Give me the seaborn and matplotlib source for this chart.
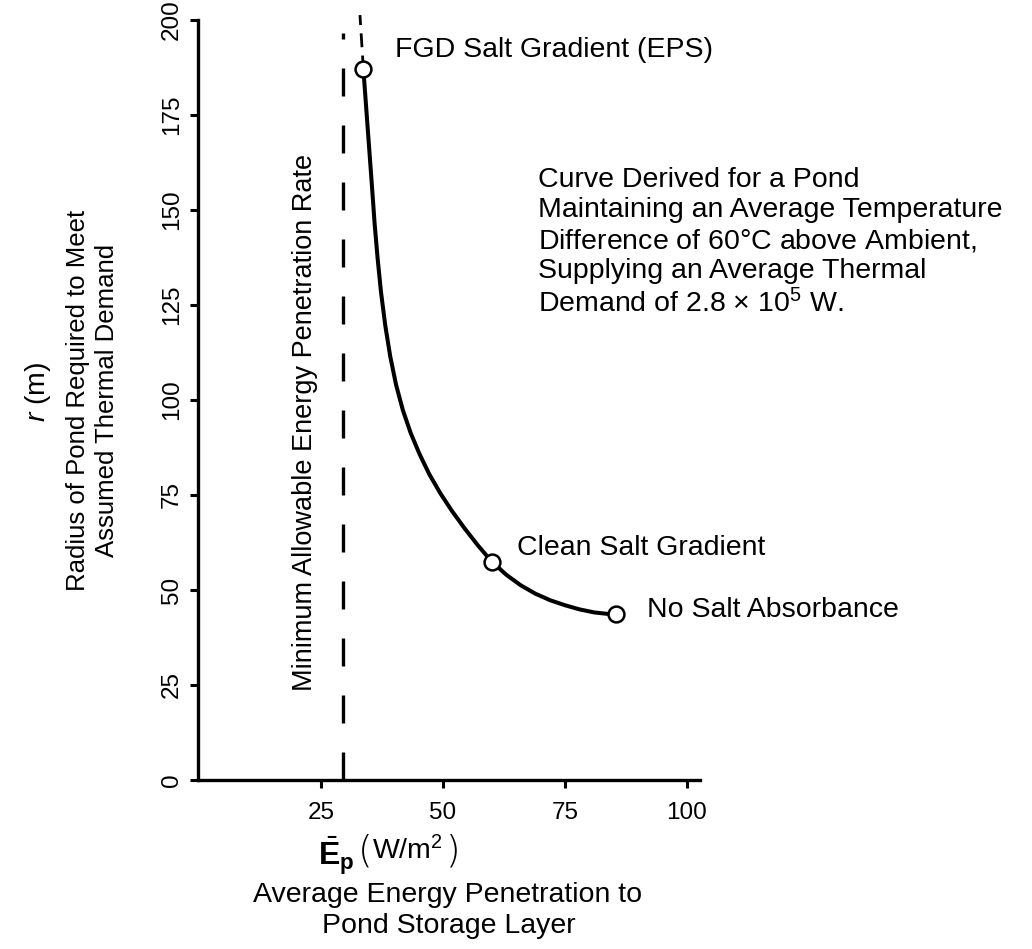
import matplotlib
matplotlib.use("Agg")
import matplotlib.pyplot as plt
import pandas as pd
import seaborn as sns

# Required pond radius r (m) against average energy penetration Ep (W/m^2)
curve_ep = [33.7, 34.3, 34.9, 35.5, 36.0, 36.6, 37.3, 38.2, 39.2, 40.4, 41.8,
            43.4, 45.2, 47.2, 49.4, 51.8, 54.4, 57.2, 60.0, 63.0, 66.0, 69.0,
            72.0, 75.0, 78.0, 81.0, 83.5, 85.4]
curve_r = [187.0, 176.5, 166.0, 155.5, 146.5, 137.5, 128.5, 119.5, 111.5, 104.0,
           97.3, 91.3, 85.8, 80.5, 75.6, 70.9, 66.3, 61.7, 57.5, 54.0, 51.2,
           49.0, 47.3, 46.0, 44.9, 44.1, 43.75, 43.6]

# Extrapolated (dashed) continuation beyond the FGD point
ext_ep = [33.7, 33.0]
ext_r = [187.0, 201.3]

# Labelled cases on the curve
case_names = ["FGD Salt Gradient (EPS)", "Clean Salt Gradient", "No Salt Absorbance"]
case_ep = [33.7, 60.0, 85.4]
case_r = [187.0, 57.5, 43.6]

# Minimum allowable energy penetration rate
min_ep = 29.6
min_r = [0.0, 196.6]

x_ticks = [25, 50, 75, 100]
y_ticks = [0, 25, 50, 75, 100, 125, 150, 175, 200]

sns.set_theme(style="ticks")
plt.rcParams["font.family"] = ["Liberation Sans", "DejaVu Sans"]
plt.rcParams.update({
    "mathtext.fontset": "custom",
    "mathtext.rm": "Liberation Sans",
    "mathtext.it": "Liberation Sans:italic",
    "mathtext.bf": "Liberation Sans:bold",
    "text.color": "black",
    "axes.edgecolor": "black",
    "xtick.color": "black",
    "ytick.color": "black",
})

FS = 20.5        # annotation text
FS_Y = 18.5      # vertical axis title
W, H = 1032, 949


def fx(px):
    return px / W


def fy(py):
    return 1 - py / H


fig = plt.figure(figsize=(W / 100, H / 100), dpi=100)
ax = fig.add_axes([fx(198), fy(780), 502 / W, 760 / H])

curve = pd.DataFrame({"ep": curve_ep, "r": curve_r})
sns.lineplot(data=curve, x="ep", y="r", ax=ax, color="black", lw=2.9,
             sort=False, estimator=None, solid_joinstyle="round",
             solid_capstyle="round")

sns.lineplot(x=ext_ep, y=ext_r, ax=ax, color="black", lw=2.0, sort=False,
             estimator=None, linestyle=(0, (5, 3)))
ax.lines[-1].set_clip_on(False)

sns.lineplot(x=[min_ep, min_ep], y=min_r, ax=ax, color="black", lw=2.4,
             sort=False, estimator=None, linestyle=(0, (8.4, 8.7)))

sns.scatterplot(x=case_ep, y=case_r, ax=ax, s=130, color="white",
                edgecolor="black", linewidth=1.8, zorder=5, clip_on=False)

# Case labels
ax.text(40.2, 192.1, case_names[0], fontsize=FS, ha="left", va="center")
ax.text(65.2, 61.1, case_names[1], fontsize=FS, ha="left", va="center")
ax.text(91.8, 44.7, case_names[2], fontsize=FS, ha="left", va="center",
        clip_on=False)

ax.text(21.7, 94.2, "Minimum Allowable Energy Penetration Rate", fontsize=19.5,
        rotation=90, ha="center", va="center")

note = ("Curve Derived for a Pond\n"
        "Maintaining an Average Temperature\n"
        "Difference of 60$\\degree$C above Ambient,\n"
        "Supplying an Average Thermal\n"
        "Demand of 2.8 \u00d7 10$^5$ W.")
ax.text(69.4, 141.4, note, fontsize=FS, ha="left", va="center",
        multialignment="left", linespacing=1.2, clip_on=False)

ax.set_xlim(-0.2, 102.7)
ax.set_ylim(0, 200)
ax.set_xticks(x_ticks)
ax.set_yticks(y_ticks)
ax.set_xticklabels([str(v) for v in x_ticks])
ax.set_yticklabels([str(v) for v in y_ticks])
ax.set_xlabel("")
ax.set_ylabel("")
sns.despine(ax=ax)
for side in ("left", "bottom"):
    ax.spines[side].set_linewidth(2.4)
ax.tick_params(axis="both", direction="out", length=6, width=2.2,
               labelsize=17.5)
ax.tick_params(axis="x", pad=10)
ax.tick_params(axis="y", pad=5, labelrotation=90)
for lab in ax.get_yticklabels():
    lab.set_va("center")

# Vertical axis title
fig.text(fx(38), fy(392), r"$\mathit{r}$ (m)", fontsize=FS,
         rotation=90, ha="center", va="center")
fig.text(fx(78), fy(400), "Radius of Pond Required to Meet",
         fontsize=FS_Y, rotation=90, ha="center", va="center")
fig.text(fx(107), fy(400), "Assumed Thermal Demand",
         fontsize=FS_Y, rotation=90, ha="center", va="center")

# Horizontal axis title: E-bar sub p, then the unit in tall parentheses
fig.text(fx(318), fy(856), r"$\bar{\mathbf{E}}_{\mathbf{p}}$",
         fontsize=23, ha="left", va="center")
fig.text(fx(365), fy(851), "(", fontsize=27, ha="center", va="center",
         family="DejaVu Sans", fontweight="light")
fig.text(fx(372), fy(851), r"W/m$^{2}$", fontsize=FS, ha="left",
         va="center")
fig.text(fx(453), fy(851), ")", fontsize=27, ha="center", va="center",
         family="DejaVu Sans", fontweight="light")
fig.text(fx(448), fy(895), "Average Energy Penetration to",
         fontsize=FS, ha="center", va="center")
fig.text(fx(449), fy(926), "Pond Storage Layer",
         fontsize=FS, ha="center", va="center")

fig.savefig("out.png", dpi=100, facecolor="white")
